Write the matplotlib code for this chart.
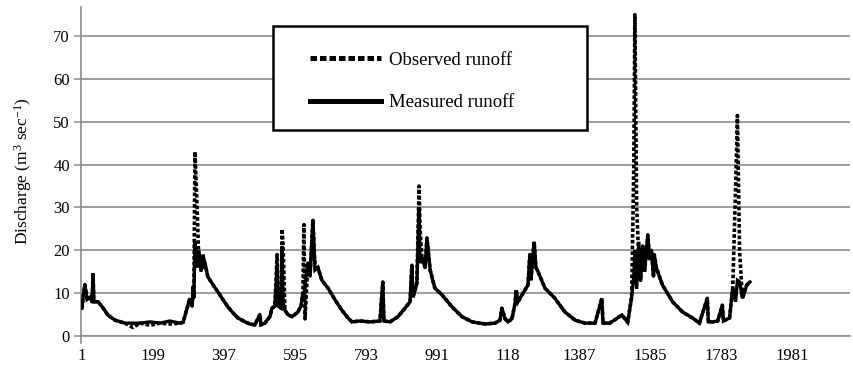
import matplotlib

matplotlib.use("Agg")
import matplotlib.pyplot as plt
from matplotlib.lines import Line2D
from matplotlib.patches import Rectangle

# Values (day index, discharge in m3/s).
days = [
    1, 4, 9, 15, 23, 29, 32, 34, 46, 60, 73, 93, 121, 143, 163, 191, 219, 246,
    274, 283, 291, 302, 308, 311, 313, 316, 322, 327, 333, 338, 344, 352, 366,
    380, 394, 408, 422, 436, 456, 469, 483, 497, 500, 511, 525, 531, 539, 545,
    548, 556, 559, 562, 567, 575, 587, 603, 612, 617, 620, 623, 631, 637, 645,
    651, 659, 670, 687, 707, 726, 743, 754, 776, 804, 832, 840, 843, 860, 882,
    902, 916, 921, 924, 935, 941, 944, 949, 958, 963, 972, 985, 1005, 1033,
    1061, 1089, 1125, 1153, 1167, 1172, 1181, 1189, 1200, 1209, 1212, 1217,
    1228, 1245, 1250, 1253, 1262, 1267, 1273, 1292, 1320, 1348, 1376, 1404,
    1432, 1451, 1454, 1473, 1507, 1523, 1534, 1540, 1543, 1548, 1554, 1559,
    1565, 1570, 1579, 1584, 1589, 1595, 1597, 1603, 1620, 1648, 1676, 1704,
    1723, 1745, 1748, 1760, 1774, 1787, 1790, 1807, 1816, 1824, 1829, 1835,
    1843, 1855, 1864,
]
measured = [
    6.5, 9, 12, 8.5, 9, 8, 14.7, 8, 8, 6.5, 4.9, 3.7, 3.0, 3.0, 3.0, 3.3, 3.0,
    3.5, 3.0, 3.2, 5.6, 8.8, 7.0, 11.5, 9.0, 22, 16, 20, 15, 19, 17, 13.8, 12,
    10.3, 8.5, 6.8, 5.4, 4.2, 3.3, 2.8, 2.6, 5.0, 2.6, 3.0, 4.5, 6.5, 7.0, 16,
    7.0, 6.5, 21, 8, 6.0, 5.0, 4.5, 5.6, 7.0, 10, 9, 12, 17, 14, 27, 15.4, 16,
    13, 11.2, 8.4, 6.0, 4.2, 3.3, 3.5, 3.3, 3.5, 12.6, 3.5, 3.3, 4.5, 6.5, 8.0,
    16.5, 9.0, 12.3, 30, 17, 18.4, 16, 22.9, 15.4, 11.2, 9.6, 6.8, 4.5, 3.3,
    2.8, 3.0, 3.7, 6.5, 4.0, 3.3, 4.0, 7.7, 10.7, 8.0, 9.6, 11.9, 19, 13, 22,
    16, 15, 11.2, 8.8, 5.6, 3.7, 3.0, 3.0, 8.8, 3.0, 3.0, 4.9, 3.2, 9.1, 14,
    20, 11, 22, 13, 21, 15, 23.6, 18, 20, 14, 19, 15.9, 11.9, 8.0, 5.6, 4.2,
    3.0, 8.8, 3.3, 3.3, 3.5, 7.2, 3.5, 4.2, 11.2, 8, 13, 12.6, 8.8, 11.9, 12.6,
]
observed = [
    6.5, 9, 12, 8.5, 9, 8, 14, 8, 8, 6.5, 4.9, 3.7, 3.0, 2.0, 3.0, 2.5, 3.0,
    2.8, 3.0, 3.2, 5.6, 8.8, 7.0, 11.5, 9.0, 43, 30, 17, 18, 16, 17, 13.8, 12,
    10.3, 8.5, 6.8, 5.4, 4.2, 3.3, 2.8, 2.6, 5.0, 2.6, 3.0, 4.5, 6.5, 7.0, 19,
    7.0, 6.5, 25, 21, 6.0, 5.0, 4.5, 5.6, 7.0, 10, 26, 4, 17, 14, 27, 15.4, 16,
    13, 11.2, 8.4, 6.0, 4.2, 3.3, 3.5, 3.3, 3.5, 12.6, 3.5, 3.3, 4.5, 6.5, 8.0,
    16.5, 9.0, 12.3, 35, 25, 18.4, 16, 22.9, 15.4, 11.2, 9.6, 6.8, 4.5, 3.3,
    2.8, 3.0, 3.7, 6.5, 4.0, 3.3, 4.0, 7.7, 10.7, 8.0, 9.6, 11.9, 19, 13, 22,
    16, 15, 11.2, 8.8, 5.6, 3.7, 3.0, 3.0, 8.8, 3.0, 3.0, 4.9, 3.2, 9.1, 40,
    75, 30, 18, 13, 21, 15, 23.6, 18, 20, 14, 19, 15.9, 11.9, 8.0, 5.6, 4.2,
    3.0, 8.8, 3.3, 3.3, 3.5, 7.2, 3.5, 4.2, 11.2, 35, 51.5, 20, 8.8, 11.9, 12.6,
]
tick_days = [1, 199, 397, 595, 793, 991, 1189, 1387, 1585, 1783, 1981]
tick_labels = ["1", "199", "397", "595", "793", "991", "118", "1387", "1585", "1783", "1981"]
y_ticks = [0, 10, 20, 30, 40, 50, 60, 70]

plt.rcParams["font.family"] = ["Liberation Serif", "DejaVu Serif"]
plt.rcParams["mathtext.fontset"] = "custom"
plt.rcParams["mathtext.rm"] = "Liberation Serif"
plt.rcParams["mathtext.it"] = "Liberation Serif:italic"

grid_grey = "#8c8c8c"

fig = plt.figure(figsize=(8.54, 3.73), dpi=100)
ax = fig.add_axes([81 / 854, 37 / 373, 769 / 854, 329 / 373])

ax.plot(days, observed, color="black", lw=2.6, linestyle=(0, (1.0, 0.6)),
        dash_capstyle="butt", zorder=3)
ax.plot(days, measured, color="black", lw=2.4, solid_joinstyle="miter", zorder=4)

ax.set_xlim(-1.8, 2143)
ax.set_ylim(0, 76.8)
ax.set_xticks(tick_days)
ax.set_xticklabels(tick_labels)
ax.set_yticks(y_ticks)
ax.tick_params(axis="x", length=0, pad=9, labelsize=12)
ax.tick_params(axis="y", length=5, width=1.1, color=grid_grey, pad=3, labelsize=12)
ax.yaxis.grid(True, color=grid_grey, lw=1.2)
ax.set_axisbelow(True)

for side in ("top", "right"):
    ax.spines[side].set_visible(False)
for side in ("left", "bottom"):
    ax.spines[side].set_color(grid_grey)
    ax.spines[side].set_linewidth(1.2)
# little stub of the vertical axis below zero
ax.plot([0, 0], [0, -0.02], transform=ax.transAxes, color=grid_grey, lw=1.2,
        clip_on=False)

ax.set_ylabel(r"Discharge (m$^{3}$ sec$^{-1}$)", fontsize=12.5, labelpad=14)

# legend box drawn separately so the entries can sit further in from the left edge
ax.add_patch(Rectangle((0.25, 0.626), 0.408, 0.316, transform=ax.transAxes,
                       facecolor="white", edgecolor="black", lw=1.8, zorder=6))
handles = [
    Line2D([], [], color="black", lw=3.6, linestyle=(0, (1.3, 0.6)), dash_capstyle="butt"),
    Line2D([], [], color="black", lw=3.6),
]
leg = ax.legend(handles, ["Observed runoff", "Measured runoff"],
                loc="upper left", bbox_to_anchor=(0.268, 0.626, 0.39, 0.307),
                borderaxespad=0, frameon=False, fontsize=13.5, handlelength=3.8,
                handletextpad=0.45, borderpad=1.2, labelspacing=1.35)
leg.set_zorder(7)

fig.savefig("out.png", dpi=100)
